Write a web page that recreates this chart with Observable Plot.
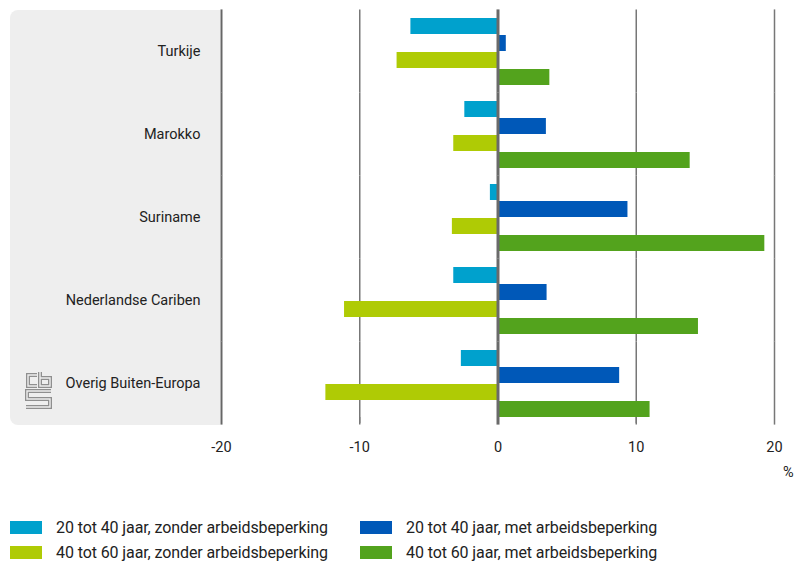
<!DOCTYPE html>
<html>
<head>
<meta charset="utf-8">
<script src="https://cdn.jsdelivr.net/npm/d3@7"></script>
<script src="https://cdn.jsdelivr.net/npm/@observablehq/plot@0.6"></script>
<style>
  body { margin: 0; background: #fff; font-family: Roboto, "Noto Sans", sans-serif; color: #222; }
  #wrap { position: relative; width: 797px; height: 561px; overflow: hidden; }
  #panel { position: absolute; left: 10px; top: 10px; width: 210px; height: 415px; background: #eeeeee; border-radius: 8px 0 0 8px; }
  #logo { position: absolute; left: 25px; top: 372px; }
  #chart { position: absolute; left: 0; top: 0; }
  #unit { position: absolute; left: 783px; top: 464px; font-size: 14.5px; }
  .lg { position: absolute; display: flex; align-items: center; font-size: 16px; letter-spacing: -0.1px; white-space: nowrap; }
  .lg span.sw { display: inline-block; width: 32px; height: 13px; margin-right: 14px; }
</style>
</head>
<body>
<div id="wrap">
  <div id="panel"></div>
  <svg id="logo" width="27" height="38" viewBox="-1 -1 27 38">
    <g fill="none" stroke-linejoin="miter">
      <g stroke="#8f8f8f" stroke-width="4">
        <path d="M11,2 H2 V13 H11"/>
        <path d="M14,-1 V13 H24 V5 H14"/>
        <path d="M25,18 H1 V26 H24 V34 H0"/>
      </g>
      <g stroke="#eeeeee" stroke-width="1.4">
        <path d="M11,2 H2 V13 H11"/>
        <path d="M14,-1 V13 H24 V5 H14"/>
        <path d="M25,18 H1 V26 H24 V34 H0"/>
      </g>
    </g>
  </svg>
  <div id="chart"></div>
  <div id="unit">%</div>
  <div id="legend"></div>
</div>
<script>
// Herkomstgroepen (y) and the four age / work-limitation groups
const categories = ["Turkije", "Marokko", "Suriname", "Nederlandse Cariben", "Overig Buiten-Europa"];
const series = [
  "20 tot 40 jaar, zonder arbeidsbeperking",
  "20 tot 40 jaar, met arbeidsbeperking",
  "40 tot 60 jaar, zonder arbeidsbeperking",
  "40 tot 60 jaar, met arbeidsbeperking"
];
const colors = ["#00a1cd", "#0058b8", "#afcb05", "#53a31d"];

// Values in %, one list per series, ordered as categories
const young_without = [-6.3, -2.4, -0.55, -3.2, -2.65];
const young_with    = [0.6, 3.5, 9.4, 3.55, 8.8];
const older_without = [-7.3, -3.2, -3.3, -11.1, -12.45];
const older_with    = [3.75, 13.9, 19.3, 14.5, 11.0];

const xTicks = [-20, -10, 0, 10, 20];
const gridTicks = [-10, 10, 20];

const seriesValues = [young_without, young_with, older_without, older_with];
const rows = [];
categories.forEach((c, i) => {
  series.forEach((s, j) => rows.push({category: c, series: s, value: seriesValues[j][i]}));
});

const chart = Plot.plot({
  width: 797,
  height: 485,
  marginTop: 10,
  marginBottom: 60,
  marginLeft: 221,
  marginRight: 23,
  style: {fontFamily: "Roboto, 'Noto Sans', sans-serif", fontSize: "14.5px", color: "#222", background: "transparent", overflow: "visible"},
  x: {domain: [-20, 20], ticks: xTicks, tickSize: 6, tickPadding: 18, label: null,
      tickFormat: d => (d < 0 ? "-" + Math.abs(d) : String(d))},
  fy: {domain: categories, paddingInner: 0.18, paddingOuter: 0.085, axis: "left",
       tickSize: 0, tickPadding: 21, label: null},
  y: {domain: series, axis: null, paddingInner: 0.06, paddingOuter: 0},
  color: {domain: series, range: colors},
  marks: [
    Plot.ruleX(gridTicks, {stroke: "#777", strokeWidth: 1.5, insetTop: -7.6, insetBottom: -7.6}),
    Plot.barX(rows, {x: "value", y: "series", fy: "category", fill: "series"}),
    Plot.ruleX([-20], {stroke: "#666", strokeWidth: 2, insetTop: -7.6, insetBottom: -7.6}),
    Plot.ruleX([0], {stroke: "#6a6a6a", strokeWidth: 3, insetTop: -7.6, insetBottom: -7.6})
  ]
});
document.getElementById("chart").appendChild(chart);

// Legend: two columns, two rows
const legend = document.getElementById("legend");
const legendPos = [[10, 518], [360, 518], [10, 543], [360, 543]];
series.forEach((s, i) => {
  const item = document.createElement("div");
  item.className = "lg";
  item.style.left = legendPos[i][0] + "px";
  item.style.top = legendPos[i][1] + "px";
  const sw = document.createElement("span");
  sw.className = "sw";
  sw.style.background = colors[i];
  item.appendChild(sw);
  item.appendChild(document.createTextNode(s));
  legend.appendChild(item);
});
</script>
</body>
</html>
